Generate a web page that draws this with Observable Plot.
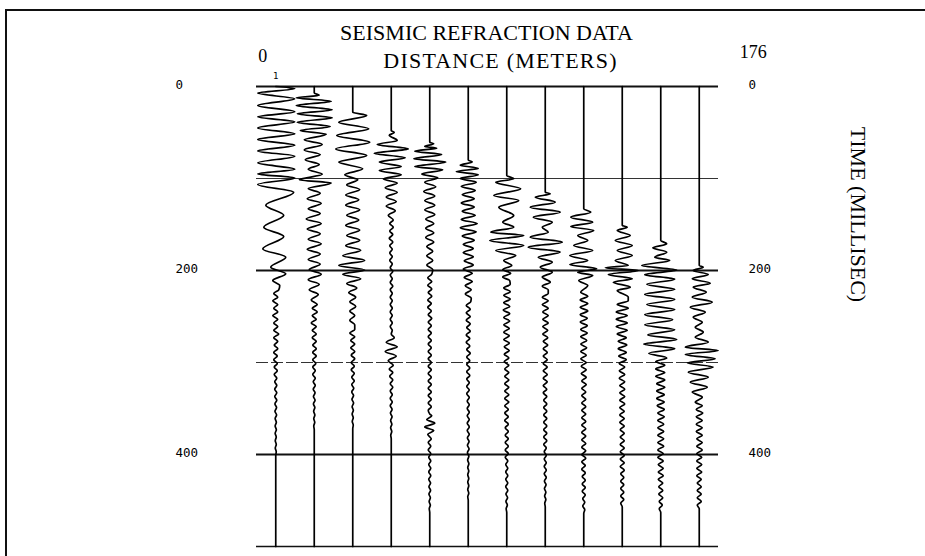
<!DOCTYPE html>
<html><head><meta charset="utf-8">
<script src="https://cdn.jsdelivr.net/npm/d3@7"></script>
<script src="https://cdn.jsdelivr.net/npm/@observablehq/plot@0.6"></script>
<style>
html,body{margin:0;padding:0;background:#fff;}
#wrap{position:relative;width:925px;height:556px;overflow:hidden;background:#fff;}
#wrap svg{position:absolute;left:0;top:0;}
#border{position:absolute;left:5px;top:9px;width:930px;height:600px;border-left:2px solid #111;border-top:2px solid #111;box-sizing:border-box;pointer-events:none;}
</style></head><body><div id="wrap"><div id="border"></div></div>
<script>
// ---- data ----
const titleText = "SEISMIC REFRACTION DATA";
const distanceLabel = "DISTANCE (METERS)";
const timeLabel = "TIME (MILLISEC)";
const distanceEnds = [0, 176];                 // meters
const timeTicks = [0, 200, 400];                // ms
const gridTimes = [0, 100, 200, 300, 400, 500]; // ms
const traceNumbers = [1,2,3,4,5,6,7,8,9,10,11,12];
const distances = [0,16,32,48,64,80,96,112,128,144,160,176];
const onsets = [0, 7, 28, 48, 60.5, 80, 96.7, 114.9, 133, 151, 167.4, 194.6];

// arrivals: [time ms, amplitude] at each wiggle extreme
const trace1Arrivals = [[2.3,19],[7.2,-18],[13.4,19],[20.7,-18],[27.5,19],[33,-18],[38.4,19],[45,-18],[51.4,19],[57.6,-18],[63.8,19],[70,-18],[75.7,19],[83,-18],[89.9,19],[95,-18],[99.5,19],[106.5,-18],[114.9,18],[129,-10],[140,8],[153,-12],[163,8],[176.5,-13],[185.5,10],[196.4,-5],[203.6,10],[210.9,-3],[216.3,4]];
const trace2Arrivals = [[9.5,5],[12.3,-18],[16,17],[20.7,-18],[25.4,18],[29.7,-17],[34,18],[38.8,-17],[43.5,16],[47.8,-14],[52,12],[58,-10],[63,8],[68.9,-10],[74,6],[79.7,-9],[84.8,5],[89.9,-6],[95.5,8],[101.4,-15],[105,17],[111,-6],[116,6],[122,-7],[127,7],[133,-6],[138,6],[144,-8],[149,7],[155,-7],[160,6],[166,-6],[171,7],[177,-7],[182,6],[188,-6],[193,6],[199,-5],[204,7],[210,-6],[215,5],[221,-5],[226,4],[232,-3]];
const trace3Arrivals = [[31.5,14],[38.8,-14],[46,16],[53.3,-16],[60.5,17],[67.8,-17],[75,14],[82.2,-14],[89.5,10],[96,-8],[101.4,5],[107,-6],[112,7],[118,-7],[123,6],[129,-7],[134,7],[140,-6],[145,6],[151,-7],[156,7],[162,-6],[167,7],[173,-7],[178,8],[184,-10],[189,12],[194.5,-14],[199.5,12],[204,-10],[209,8],[214,-6],[219,4],[224,-4],[229,3],[234,-3],[239,3],[244,-3],[249,2],[254,-3],[259,2]];
const trace4Arrivals = [[50,3],[53,-2],[58.7,6],[63,-14],[67.8,17],[72.5,-17],[77.5,14],[82.2,-12],[87,10],[91.3,-12],[96,10],[100.4,-8],[105,6],[110,-6],[115,6],[120,-5],[125,5],[130,-5],[135,4],[140,-3],[273,3],[278,-5],[283,6],[288,-6],[293,5],[298,-3]];
const trace5Arrivals = [[62.3,4],[65.2,-5],[67,7],[70.3,-15],[73.9,12],[78.6,-16],[82.2,16],[87,-15],[90.6,13],[95,-8],[99.3,8],[104,-5],[109,6],[114,-6],[119,5],[124,-5],[129,5],[134,-5],[139,5],[144,-4],[149,4],[154,-4],[159,4],[164,-4],[169,4],[174,-3],[179,3],[184,-3],[189,3],[194,-3],[199,3],[358,2],[362,-3],[366,5],[370,-5],[374,4],[378,-2]];
const trace6Arrivals = [[82,4],[85.5,-8],[89,10],[92.5,-12],[96,10],[100,-8],[104,8],[108.5,-7],[113,7],[117.5,-6],[122,6],[126.5,-7],[131,6],[135.5,-6],[140,7],[144.5,-7],[149,9],[153.5,-8],[158,8],[162.5,-6],[167,6],[171.5,-5],[176,5],[180.5,-5],[185,5],[189.5,-4],[194,5],[198.5,-5],[203,4],[207.5,-4],[212,4],[216.5,-3],[221,3],[225.5,-3],[230,3]];
const trace7Arrivals = [[100.4,7],[104,-11],[111.2,14],[118.5,-13],[123.9,12],[131.2,-8],[140.2,7],[147.5,-4],[152.9,7],[158.3,-16],[162,17],[167.4,-17],[172.8,17],[178.3,-11],[183.7,9],[189.1,-3],[194.6,5],[199,-4],[203,4],[207,-4],[211,3]];
const trace8Arrivals = [[116.7,5],[120.3,-10],[125.7,10],[131.2,-15],[136.6,15],[142,-12],[147.5,7],[152.9,-3],[158.3,3],[163.8,-15],[169.2,17],[174.6,-17],[180,15],[185.5,-7],[190.9,7],[196.4,-5],[201.8,7],[207.2,-3],[212.7,5],[217,-3],[221,3]];
const trace9Arrivals = [[136.6,7],[142,-13],[147.5,9],[152.2,-13],[156.5,10],[162,-6],[167.4,4],[172.8,-10],[178.3,9],[183.7,-14],[189.1,4],[193.5,-14],[198.2,13],[201.8,-6],[205.4,9],[210.9,-5],[216.3,4],[223.6,-3]];
const trace10Arrivals = [[152.9,5],[156.5,-5],[162,8],[167.4,-7],[172.8,10],[178.3,-5],[183.7,10],[189.1,-7],[194.6,6],[197.1,-17],[200,16],[204.3,-14],[209,10],[212.7,-9],[218.1,8],[221.7,-5],[228.9,6]];
const trace11Arrivals = [[171,6],[175.4,-8],[180.1,6],[185.5,-6],[189.1,9],[194.6,-19],[199.5,16],[204.5,-16],[209.5,14],[215,-14],[220.5,14],[226,-16],[231.5,14],[237,-14],[242.5,14],[248,-16],[253.5,12],[259,-16],[264.5,14],[270,-13],[275,16],[280,-17],[285,14],[290,-12],[295,6],[299,-5]];
const trace12Arrivals = [[196.4,4],[200,-6],[204.3,9],[209,-7],[213.8,11],[218.1,-6],[223.6,7],[229,-7],[234.4,13],[239.9,-9],[245.3,6],[250.7,-6],[256.2,3],[261.6,-4],[267,4],[272.5,-4],[277.9,9],[283.3,-14],[287,19],[291.3,-14],[296,16],[300.4,-12],[305,14],[310.5,-11],[316,9],[321.4,-9],[326.8,8],[332.2,-7],[337.7,3],[343.1,-4]];

// background wiggles: [start ms, magnitudes of successive extremes, 4 ms apart]
const trace1Noise = [[221,[3,2,2,3,2,2,2,3,2,2,2,2,3,2,2,1.5,2,2,1.5,2,1.5,1.5,1.5,1.5,1,1,1,1,1,1,1,0.8,0.8,0.8,0.8,0.6,0.6,0.6,0.6,0.6,0.5,0.5,0.5,0.5,0.5]]];
const trace2Noise = [[237,[3,2,3,2,2,3,2,2,2,2,2,1.5,2,1.5,2,1.5,1.5,1.5,1,1.5,1,1,1,1,0.8,0.8,0.8,0.8,0.6,0.6,0.6,0.5,0.5,0.5]]];
const trace3Noise = [[264,[2,3,2,2,2,2,2,1.5,2,1.5,1.5,1.5,1.5,1,1.5,1,1,1,0.8,0.8,0.8,0.6,0.6,0.6,0.5,0.5,0.5]]];
const trace4Noise = [[145,[2,1.5,2,1.5,1.5,2,1.5,1.5,1,1.5,1,1.5,1,1,1.5,1,1,1,1.5,1,1,1,1,1,1,1,1,1,1,1,1]],[303,[2,2,1.5,1.5,1.5,1,1.5,1,1,1,1,1,0.8,0.8,0.8,0.6,0.6,0.6,0.5,0.5]]];
const trace5Noise = [[204,[2,2,2,2,2,1.5,2,2,1.5,2,1.5,1.5,2,1.5,1.5,1.5,1.5,1.5,1.5,1.5,1.5,1.5,1.5,1.5,1.5,1.5,1.5,1.5,1.5,1.5,1.5,1.5,1.5,1.5,1.5,1.5,1.5,1.5]],[383,[1.5,1.5,1,1.5,1,1,1,1,1,1,1,1,0.8,0.8,0.8,0.8,0.6,0.6,0.6,0.5]]];
const trace6Noise = [[234,[2.5,2,2,2,2,2,2,1.5,2,2,1.5,2,1.5,1.5,2,1.5,1.5,1.5,1.5,1.5,1.5,1.5,1,1.5,1,1.5,1,1,1,1,1,1,1,1,1,1,1,0.8,0.8,0.8,0.8,0.8,0.6,0.6,0.6,0.5,0.5,0.5,0.5,0.5,0.5,0.5,0.5,0.5]]];
const trace7Noise = [[215,[3.5,3,3.5,3,3.5,3,3,3.5,3,3,3,3,2.5,3,2.5,3,2.5,2.5,2.5,2.5,2,2.5,2,2,2,2,2,2,2,2,2,2,2,2,1.5,2,1.5,2,1.5,1.5,1.5,1.5,1.5,1.5,1.5,1.5,1.5,1.5,1,1,1,1,1,1,1,1,1,0.8,0.8,0.8,0.6,0.6]]];
const trace8Noise = [[225,[3,3,3,3,3,2.5,3,2.5,3,2.5,2.5,2.5,2.5,2,2.5,2,2,2,2,2,2,2,2,2,2,2,1.5,2,1.5,1.5,1.5,1.5,1.5,1.5,1.5,1.5,1.5,1.5,1.5,1.5,1.5,1.5,1,1,1,1,1,1,1,1,1,0.8,0.8,0.8,0.6,0.6,0.6,0.5]]];
const trace9Noise = [[228,[4,3.5,4,3.5,4,3.5,3.5,3.5,3.5,3,3.5,3,3,3,3,3,2.5,3,2.5,2.5,2.5,2.5,2.5,2,2.5,2,2,2,2,2,2,2,2,2,2,2,2,2,2,2,2,2,2,2,2,2,1.5,2,1.5,1.5,1.5,1.5,1.5,1.5,1.5,1,1,1,1]]];
const trace10Noise = [[233,[6,5,6,6,5,6,5,6,5,5,4,4,4.5,4,4,3.5,4,3,2.5,3,2.5,3,2.5,2.5,2.5,2.5,2.5,2.5,2.5,2.5,2,2.5,2,2.5,2,2,2,2,2,2,2,2,2,2,2,2,2,1.5,1.5,1.5,1.5,1.5,1.5,1.5,1.5,1.5]]];
const trace11Noise = [[303,[4,5,4,5,4,4,4,4,3.5,4,3.5,3.5,3.5,3,3.5,3,3,3,3,3,3,3,3,3,2.5,3,2.5,2.5,2.5,2.5,2.5,2.5,2,2,2,2,2,1.5,1.5,1.5]]];
const trace12Noise = [[347,[3,3,3.5,3,3,3,3,3,3,2.5,3,2.5,3,2.5,2.5,2.5,2.5,2.5,2.5,2.5,2,2,2,2,2,2,2,2]]];

const arrivals = [trace1Arrivals,trace2Arrivals,trace3Arrivals,trace4Arrivals,trace5Arrivals,trace6Arrivals,trace7Arrivals,trace8Arrivals,trace9Arrivals,trace10Arrivals,trace11Arrivals,trace12Arrivals];
const noises = [trace1Noise,trace2Noise,trace3Noise,trace4Noise,trace5Noise,trace6Noise,trace7Noise,trace8Noise,trace9Noise,trace10Noise,trace11Noise,trace12Noise];

// ---- build table ----
const NOISE_STEP = 4;        // ms between background extremes
const GAIN = 0.415;          // meters of offset per amplitude unit
const END_TIME = 500;
const rows = [];
traceNumbers.forEach((n, i) => {
  const pts = [[0, 0], [onsets[i], 0], ...arrivals[i]];
  noises[i].forEach(([start, mags]) => {
    mags.forEach((m, j) => pts.push([start + j * NOISE_STEP, j % 2 ? -m : m]));
    pts.push([start + mags.length * NOISE_STEP, 0]);
  });
  pts.push([END_TIME, 0]);
  pts.sort((a, b) => a[0] - b[0]);
  let last = -1;
  pts.forEach(([t, a]) => {
    if (t <= last) return;
    last = t;
    rows.push({trace: n, t, x: distances[i] + a * GAIN});
  });
});

const serif = "'Liberation Serif', 'Times New Roman', serif";
const chart = Plot.plot({
  width: 925, height: 556,
  marginLeft: 256, marginRight: 207, marginTop: 86, marginBottom: 10,
  x: {domain: [-8, 184], axis: null},
  y: {domain: [0, END_TIME], reverse: true, axis: null},
  style: {background: "transparent", color: "#000", fontFamily: "'DejaVu Sans Mono', monospace", fontSize: "12px", overflow: "visible"},
  marks: [
    Plot.ruleY(gridTimes.filter(t => t % 200 === 0), {stroke: "#111", strokeWidth: 2}),
    Plot.ruleY(gridTimes.filter(t => t === 100), {stroke: "#333", strokeWidth: 1}),
    Plot.ruleY(gridTimes.filter(t => t === 300), {stroke: "#333", strokeWidth: 1, strokeDasharray: "12,3"}),
    Plot.ruleY(gridTimes.filter(t => t === END_TIME), {stroke: "#111", strokeWidth: 1.6}),
    Plot.line(rows, {x: "x", y: "t", z: "trace", curve: "monotone-y", stroke: "#000", strokeWidth: 1.7}),
    Plot.text(timeTicks, {y: d => d, text: d => String(d), frameAnchor: "left", dx: -81, dy: -2, textAnchor: "start", fontSize: 12.5}),
    Plot.text(timeTicks, {y: d => d, text: d => String(d), frameAnchor: "right", dx: 30, dy: -2, textAnchor: "start", fontSize: 12.5}),
    Plot.text([traceNumbers[0]], {x: d => distances[d - 1], text: d => String(d), frameAnchor: "top", lineAnchor: "middle", dy: -10, fontSize: 9}),
    Plot.text([titleText], {text: d => d, frameAnchor: "top", lineAnchor: "middle", dx: -1, dy: -53.5, fontFamily: serif, fontSize: 22}),
    Plot.text([distanceLabel], {text: d => d, frameAnchor: "top", lineAnchor: "middle", dx: 13, dy: -25.5, fontFamily: serif, fontSize: 22}),
    Plot.text([distanceEnds[0]], {x: d => d, text: d => String(d), frameAnchor: "top", lineAnchor: "middle", dx: -13, dy: -30, fontFamily: serif, fontSize: 18}),
    Plot.text([distanceEnds[1]], {x: d => d, text: d => String(d), frameAnchor: "top", lineAnchor: "middle", dx: 54, dy: -34, fontFamily: serif, fontSize: 18}),
    Plot.text([timeLabel], {text: d => d, frameAnchor: "right", textAnchor: "middle", lineAnchor: "middle", dx: 140, dy: -102, rotate: 90, fontFamily: serif, fontSize: 22})
  ]
});
d3.select(chart).selectAll("text").filter(function() { return this.textContent === distanceLabel; }).style("letter-spacing", "1.2px");
document.getElementById("wrap").appendChild(chart);
</script></body></html>
